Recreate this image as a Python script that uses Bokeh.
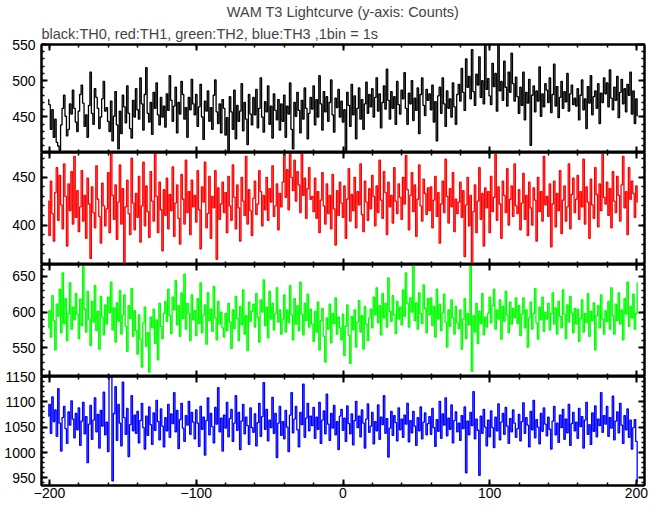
from bokeh.plotting import figure
from bokeh.layouts import column
from bokeh.models import Range1d, LinearAxis, FixedTicker, Title, ColumnDataSource
from bokeh.embed import file_html
from bokeh.resources import INLINE

# ---------------- data (1 s bins, counts) ----------------
time_s = list(range(-201, 202))

th0 = [int(v) for v in """
474 467 433 460 422 447 415 410 404 439 462 480 451 424 433 468 454 487 462 443
430 458 481 494 469 437 453 422 466 512 455 440 489 477 462 434 450 475 499 458
463 444 430 472 417 451 485 439 406 458 427 480 464 442 493 455 434 421 473 450
489 460 447 504 468 432 481 518 455 443 470 426 484 462 497 453 439 477 450 465
436 482 459 507 473 444 465 491 428 470 454 499 481 447 463 422 477 460 502 468
453 481 437 464 495 450 419 472 458 486 444 463 433 480 501 457 441 468 428 474
462 425 449 404 478 457 433 487 420 466 444 458 496 431 470 447 412 481 454 439
477 453 488 435 462 504 450 429 471 457 493 440 465 421 482 459 446 474 432 468
444 480 422 465 454 497 433 406 470 451 484 459 428 473 447 490 462 420 455 477
461 493 439 474 450 507 468 432 485 457 478 444 470 501 453 429 476 463 488 450
472 443 460 404 484 466 437 495 453 479 420 462 490 447 474 433 468 498 455 481
464 489 450 477 504 458 482 435 470 493 461 516 473 447 485 462 478 440 499 467
454 487 475 511 462 440 483 468 500 445 476 459 490 427 481 504 466 452 488 473
482 460 494 443 471 417 479 491 455 504 468 437 486 462 475 450 497 464 440 481
495 472 517 484 459 530 491 506 475 543 485 466 509 494 533 477 500 468 552 488
503 479 467 524 492 510 458 552 486 499 473 527 491 465 512 484 538 496 472 505
478 455 491 466 512 446 484 469 502 411 480 493 457 486 472 519 451 482 464 496
487 470 504 456 481 523 465 492 449 477 499 462 485 471 510 458 482 494 467 476
465 489 446 480 501 460 475 434 492 469 507 453 478 486 462 496 441 483 470 504
482 497 464 515 476 460 491 473 506 449 484 502 468 489 457 495 480 512 454 486
441 475 452
""".split()]

th1 = [int(v) for v in """
425 389 446 412 383 434 460 405 452 421 396 464 430 378 443 415 456 401 472 408
436 393 419 457 404 431 386 449 422 365 440 413 397 462 427 409 381 444 420 399
417 455 392 476 431 406 442 385 424 463 401 438 360 419 447 412 390 470 423 395
433 408 451 382 420 466 399 441 414 387 456 425 404 479 430 392 445 416 373 437
410 449 396 432 415 461 388 423 442 407 380 453 427 401 468 413 435 390 447 419
431 403 457 416 375 440 424 466 397 412 451 386 430 418 457 364 439 406 422 445
413 434 392 451 420 405 463 429 396 442 418 383 450 425 410 472 401 437 415 389
428 446 411 422 457 435 399 431 416 450 405 438 424 462 409 420 443 395 433 419
445 474 429 458 416 480 450 436 468 425 456 442 413 484 431 449 407 438 460 427
430 414 449 407 435 392 426 455 420 401 443 412 431 396 453 417 379 436 410 445
423 408 441 386 427 459 404 432 415 450 397 435 421 464 411 393 446 424 405 438
417 452 430 399 441 413 468 426 407 456 434 390 445 419 431 402 460 425 412 443
429 406 450 422 473 437 395 431 455 414 442 388 427 463 420 404 448 433 411 439
415 440 397 426 451 409 434 381 422 446 413 469 430 402 438 419 455 393 427 412
424 445 408 436 367 421 450 399 431 360 414 442 392 425 460 406 433 378 439 418
435 392 451 414 429 474 405 440 422 386 446 431 413 459 400 427 441 409 464 420
412 437 395 423 454 406 431 389 445 418 400 439 426 383 450 414 435 404 472 421
430 409 443 377 422 446 398 433 415 457 391 426 441 404 419 464 396 432 449 413
427 452 406 435 419 469 401 440 424 386 448 421 407 460 432 398 443 415 476 429
422 445 410 438 397 456 425 413 451 431 404 442 472 418 435 390 460 427 446 433
408 441 424
""".split()]

th2 = [int(v) for v in """
578 602 565 623 588 547 611 594 632 571 655 584 619 560 598 641 576 607 589 626
597 563 618 581 664 604 572 629 590 553 615 586 637 574 601 548 622 593 568 610
583 621 599 642 575 606 558 613 587 630 569 596 624 580 545 609 591 633 566 602
574 541 596 562 523 585 607 552 571 516 593 578 604 556 589 533 612 580 563 598
615 587 632 595 570 621 603 644 582 609 566 627 591 653 576 612 598 560 624 589
602 567 619 584 641 571 596 610 555 627 588 604 573 636 592 561 615 583 600 578
565 598 574 612 586 549 603 577 622 591 560 608 582 631 569 595 546 614 587 601
611 579 626 593 558 617 600 645 581 607 564 629 590 612 575 598 634 586 603 569
590 624 572 603 585 637 596 561 619 583 609 574 642 597 568 612 588 625 579 604
583 559 601 572 614 547 588 605 566 530 592 576 611 557 598 584 620 569 593 578
561 597 539 580 610 567 528 594 575 603 551 586 616 572 595 548 608 583 560 592
604 578 621 596 634 585 609 568 626 592 612 579 648 601 587 623 596 570 615 590
607 582 631 594 655 612 579 620 600 667 588 613 576 627 598 584 638 605 571 619
596 620 581 608 565 632 590 611 574 599 625 586 551 603 580 617 592 569 608 585
577 603 548 590 619 563 598 582 664 517 595 572 612 556 601 584 626 568 593 579
598 621 585 609 632 576 603 590 617 562 608 587 629 596 571 614 583 605 592 620
584 609 567 597 620 578 603 551 592 614 576 598 633 585 562 607 589 621 573 600
590 612 575 598 627 583 606 569 615 594 578 631 597 563 610 586 622 599 571 605
583 604 559 591 617 572 598 585 626 566 601 588 613 547 595 609 578 624 590 569
602 587 615 576 634 595 569 611 588 627 583 603 561 619 597 642 580 608 592 625
576 598 641
""".split()]

th3 = [int(v) for v in """
1072 1095 1038 1110 1061 1084 1032 1126 1058 1003 1069 1091 1047 1018 1080 1054 1102 1066 1029 1077
1045 1088 1014 1062 1099 1037 1071 980 1056 1093 1026 1064 1108 1041 1075 1009 1083 1052 1119 1035
1060 1002 1148 1150 944 1077 1130 1024 1095 1058 1013 1139 1069 1036 1087 992 1055 1112 1043 1074
1038 1081 1019 1063 1097 1049 1007 1072 1034 1090 1055 1016 1078 1044 1103 1061 1025 1086 1052 1011
1069 1043 1095 1030 1076 1057 1118 1041 1083 1008 1065 1097 1048 1022 1073 1054 1101 1036 1079 1060
1027 1084 1058 1012 1091 1046 1070 995 1063 1108 1035 1077 1051 1019 1089 1056 1128 1041 1068 1003
1074 1048 1099 1031 1067 1085 1022 1058 1112 1044 1079 1006 1062 1095 1037 1070 1053 1016 1088 1049
1040 1076 1013 1059 1097 1032 1071 1138 1046 1085 1023 1064 1049 1109 1038 1077 990 1058 1091 1034
1061 1027 1083 1050 1002 1074 1118 1039 1066 1091 1045 1011 1079 1055 1135 1030 1068 1097 1043 1072
1053 1089 1028 1070 1046 1099 1018 1064 1082 1037 1115 1056 1024 1077 1048 1093 1035 1061 1006 1072
1085 1044 1068 1022 1092 1057 1037 1076 1015 1063 1101 1049 1072 1031 1084 1058 1009 1066 1096 1040
1052 1079 1017 1061 1043 1094 1026 1070 1055 1112 1038 1067 991 1048 1081 1034 1073 1059 1023 1088
1045 1066 1030 1074 1056 1097 1021 1063 1039 1081 1052 1014 1069 1043 1090 1027 1060 1078 1035 1057
1071 1036 1087 1049 1012 1065 1042 1101 1028 1076 1054 1108 1033 1068 1046 1094 1019 1063 1080 1041
1058 1024 1073 1047 1090 960 1062 1035 1079 1053 1120 1027 1066 1044 955 1072 1038 1085 1050 1013
1064 1031 1082 1049 1010 1070 1043 1096 1025 1060 1077 1036 1089 1052 1018 1067 1041 1084 1058 1030
1047 1075 1023 1061 1098 1038 1069 1054 1011 1081 1045 1103 1029 1065 1050 1017 1077 1042 1088 1056
1033 1070 1046 1007 1062 1091 1035 1058 1020 1074 1049 1085 1026 1066 1039 1095 1014 1057 1079 1043
1060 1028 1087 1051 1071 1009 1064 1099 1036 1055 1016 1078 1042 1092 1031 1066 1053 1118 1040 1073
1056 1091 1032 1069 1048 1111 1025 1062 1080 1039 1097 1054 1018 1073 1045 1086 1030 1064 1007 1049
1065 1022 943
""".split()]

series_colors = ["#000000", "#ff0000", "#00ff00", "#0000ff"]
y_limits = [(401, 550), (358.6, 476), (509.7, 666.7), (935, 1150)]
y_majors = [[450, 500, 550], [400, 450], [550, 600, 650], [950, 1000, 1050, 1100, 1150]]
x_limits = (-205.5, 205.5)
x_majors = [-200, -100, 0, 100, 200]
x_minors = [-200, -180, -160, -140, -120, -100, -80, -60, -40, -20, 0,
            20, 40, 60, 80, 100, 120, 140, 160, 180, 200]
x_label_overrides = {-200: "\u2212200", -100: "\u2212100"}

title_text = "WAM T3 Lightcurve (y-axis: Counts)"
subtitle_text = "black:TH0, red:TH1, green:TH2, blue:TH3 ,1bin = 1s"

FONT = "Liberation Sans"
FS = "14px"
TFS = "14.5px"
frame_heights = [108, 112, 112, 109]
LEFT = 41
RIGHT = 9
FRAME_W = 603


def base_style(ax):
    ax.axis_line_color = "black"
    ax.axis_line_width = 2
    ax.major_tick_out = 0
    ax.minor_tick_out = 0
    ax.major_tick_line_color = "black"
    ax.minor_tick_line_color = "black"
    ax.major_label_text_font = FONT
    ax.major_label_text_color = "black"
    ax.major_label_text_font_size = FS


def labelled_axis(majors, minors, standoff):
    ax = LinearAxis(ticker=FixedTicker(ticks=majors, minor_ticks=minors))
    base_style(ax)
    ax.major_tick_in = 6
    ax.minor_tick_in = 3
    ax.major_tick_line_width = 2
    ax.minor_tick_line_width = 1.5
    ax.major_label_standoff = standoff
    return ax


def bare_axes(majors, minors):
    # tick marks only (no labels): short ticks and long ticks as two tick-only axes
    short = LinearAxis(ticker=FixedTicker(ticks=[], minor_ticks=minors))
    base_style(short)
    short.minor_tick_in = 3
    short.minor_tick_line_width = 1.5
    short.major_label_standoff = 0
    long = LinearAxis(ticker=FixedTicker(ticks=[], minor_ticks=majors))
    base_style(long)
    long.minor_tick_in = 6
    long.minor_tick_line_width = 2
    long.major_label_standoff = 0
    long.axis_line_color = None
    return [short, long]


x_range = Range1d(*x_limits)
figs = []
for i in range(4):
    vals = [th0, th1, th2, th3][i]
    lo, hi = y_limits[i]
    is_top = i == 0
    is_bottom = i == 3
    kw = dict(
        frame_width=FRAME_W, frame_height=frame_heights[i],
        x_range=x_range, y_range=Range1d(lo, hi),
        output_backend="svg", toolbar_location=None,
        x_axis_location=None, y_axis_location=None,
        min_border_left=LEFT, min_border_right=RIGHT,
        min_border_top=0, min_border_bottom=0,
        background_fill_color="white",
        border_fill_color="white",
        outline_line_color="black", outline_line_width=2,
    )
    if is_top:
        kw["min_border_top"] = 39
    if is_bottom:
        kw["min_border_top"] = 8
        kw["margin"] = (-8, 0, 0, 0)
        kw["border_fill_color"] = None
    p = figure(**kw)
    p.grid.visible = False

    src = ColumnDataSource(data=dict(t=time_s, c=vals))
    p.step(x="t", y="c", source=src, mode="center",
           line_color=series_colors[i], line_width=1.3)

    y_minors = list(range(int(lo // 10) * 10 + 10, int(hi) + 1, 10))
    p.add_layout(labelled_axis(y_majors[i], y_minors, 6), "left")
    for ax in bare_axes(y_majors[i], y_minors):
        p.add_layout(ax, "right")
    for ax in bare_axes(x_majors, x_minors):
        p.add_layout(ax, "above")
    if is_bottom:
        bx = labelled_axis(x_majors, x_minors, 2)
        bx.major_label_overrides = x_label_overrides
        p.add_layout(bx, "below")
    else:
        for ax in bare_axes(x_majors, x_minors):
            p.add_layout(ax, "below")

    if is_top:
        p.add_layout(Title(text=subtitle_text, align="left", text_font=FONT,
                           text_font_size=TFS, text_font_style="normal",
                           standoff=6, offset=0), "above")
        p.add_layout(Title(text=title_text, align="center", text_font=FONT,
                           text_font_size=TFS, text_font_style="normal",
                           standoff=2), "above")
    figs.append(p)

layout = column(*figs, spacing=0)
open("out.html", "w").write(file_html(layout, INLINE))
